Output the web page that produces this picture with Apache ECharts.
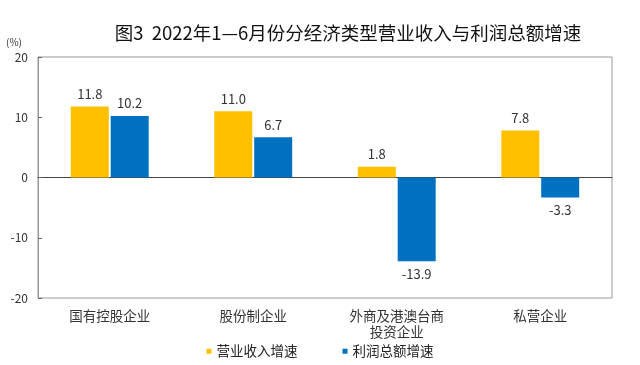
<!DOCTYPE html>
<html><head><meta charset="utf-8">
<script src="https://cdn.jsdelivr.net/npm/echarts@6/dist/echarts.min.js"></script>
<style>html,body{margin:0;padding:0;background:#fff}#c{width:640px;height:365px}</style>
</head><body><div id="c"></div>
<script>
const categories = ['国有控股企业', '股份制企业', '外商及港澳台商\n投资企业', '私营企业'];
const revenueGrowth = [11.8, 11.0, 1.8, 7.8];
const profitGrowth = [10.2, 6.7, -13.9, -3.3];
const yTicks = [-20, -10, 0, 10, 20];

const font = '"Noto Sans CJK SC", sans-serif';
const chart = echarts.init(document.getElementById('c'));
const lbl = {
  show: true, fontFamily: font, fontSize: 13, color: '#333',
  formatter: p => p.value.toFixed(1),
  position: 'top', distance: 6
};
chart.setOption({
  animation: false,
  textStyle: { fontFamily: font },
  title: {
    text: '图3  2022年1—6月份分经济类型营业收入与利润总额增速',
    left: 343, textAlign: 'center', top: 19,
    textStyle: { fontSize: 18.5, fontWeight: 'normal', color: '#111', fontFamily: font }
  },
  graphic: [{ type: 'text', left: 6, top: 37, style: { text: '(%)', fontSize: 10, fill: '#333', fontFamily: font } }],
  legend: {
    bottom: 2, left: 'center', itemWidth: 5, itemHeight: 5, itemGap: 45, icon: 'rect',
    textStyle: { fontSize: 13.5, color: '#222', fontFamily: font },
    data: ['营业收入增速', '利润总额增速']
  },
  grid: { left: 38, right: 28, top: 57, bottom: 67, show: true, borderColor: '#999', borderWidth: 1 },
  xAxis: {
    type: 'category', data: categories,
    axisLine: { onZero: true, lineStyle: { color: '#444', width: 1 } },
    axisTick: { show: false },
    axisLabel: { fontSize: 13.5, color: '#333', lineHeight: 16, margin: 10, fontFamily: font, interval: 0 },
    position: 'bottom'
  },
  yAxis: {
    type: 'value', min: yTicks[0], max: yTicks[yTicks.length - 1], interval: 10,
    axisLine: { show: true, lineStyle: { color: '#999' } },
    axisTick: { show: true, inside: true, length: 4, lineStyle: { color: '#666' } },
    splitLine: { show: false },
    axisLabel: { fontSize: 12, color: '#333', margin: 10, fontFamily: font }
  },
  series: [
    { name: '营业收入增速', type: 'bar', data: revenueGrowth, barWidth: 38, barGap: '5%',
      itemStyle: { color: '#FFC000' },
      label: Object.assign({}, lbl) },
    { name: '利润总额增速', type: 'bar', barWidth: 38,
      data: profitGrowth.map(v => ({ value: v, label: { position: v < 0 ? 'bottom' : 'top' } })),
      itemStyle: { color: '#0070C0' },
      label: Object.assign({}, lbl) }
  ]
});
</script></body></html>
